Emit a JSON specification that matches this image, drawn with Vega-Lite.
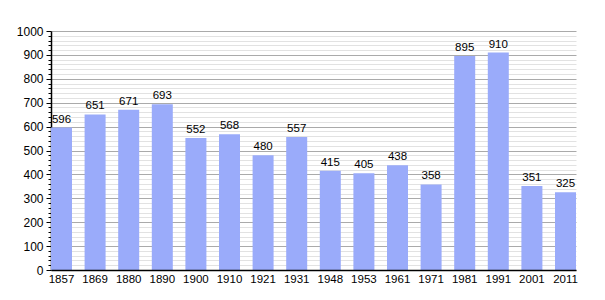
{
  "$schema": "https://vega.github.io/schema/vega-lite/v6.json",
  "width": 525,
  "height": 239,
  "autosize": {"type": "none"},
  "padding": {"left": 51, "top": 31, "right": 29, "bottom": 30},
  "background": "white",
  "config": {
    "view": {"stroke": null},
    "font": "Liberation Sans",
    "axis": {"labelFont": "Liberation Sans", "labelFontSize": 11, "labelColor": "#000"}
  },
  "data": {
    "values": [
      {"year": "1857", "pop": 596},
      {"year": "1869", "pop": 651},
      {"year": "1880", "pop": 671},
      {"year": "1890", "pop": 693},
      {"year": "1900", "pop": 552},
      {"year": "1910", "pop": 568},
      {"year": "1921", "pop": 480},
      {"year": "1931", "pop": 557},
      {"year": "1948", "pop": 415},
      {"year": "1953", "pop": 405},
      {"year": "1961", "pop": 438},
      {"year": "1971", "pop": 358},
      {"year": "1981", "pop": 895},
      {"year": "1991", "pop": 910},
      {"year": "2001", "pop": 351},
      {"year": "2011", "pop": 325}
    ]
  },
  "encoding": {
    "x": {
      "field": "year",
      "type": "ordinal",
      "sort": null,
      "scale": {"paddingInner": 0.375, "paddingOuter": 0},
      "axis": {
        "title": null,
        "labelAngle": 0,
        "ticks": false,
        "labelPadding": 3,
        "labelFontSize": 11.5,
        "domainColor": "#000",
        "domainWidth": 1.5,
        "grid": false,
        "zindex": 2
      }
    }
  },
  "layer": [
    {
      "mark": {"type": "bar", "opacity": 0},
      "encoding": {
        "y": {
          "field": "pop",
          "type": "quantitative",
          "scale": {"domain": [0, 1000]},
          "axis": {
            "orient": "left",
            "title": null,
            "values": [20,40,60,80,120,140,160,180,220,240,260,280,320,340,360,380,420,440,460,480,520,540,560,580,620,640,660,680,720,740,760,780,820,840,860,880,920,940,960,980],
            "labels": false,
            "tickSize": 3,
            "tickColor": "#000",
            "domain": false,
            "grid": true,
            "gridColor": "#e2e2e2",
            "gridWidth": 1,
            "zindex": 0
          }
        }
      }
    },
    {
      "mark": {"type": "bar", "color": "#9aabfa"},
      "encoding": {
        "y": {
          "field": "pop",
          "type": "quantitative",
          "scale": {"domain": [0, 1000]},
          "axis": {
            "orient": "left",
            "title": null,
            "values": [0,100,200,300,400,500,600,700,800,900,1000],
            "format": "d",
            "labelFontSize": 12,
            "tickSize": 5,
            "tickColor": "#000",
            "labelPadding": 3,
            "domainColor": "#000",
            "domainWidth": 1.5,
            "grid": true,
            "gridColor": "#aaaaaa",
            "gridWidth": 1,
            "zindex": 0
          }
        }
      }
    },
    {
      "mark": {"type": "text", "baseline": "bottom", "dy": -3, "fontSize": 11.5, "font": "Liberation Sans", "color": "#000"},
      "encoding": {
        "y": {"field": "pop", "type": "quantitative", "axis": null},
        "text": {"field": "pop", "type": "quantitative"}
      }
    }
  ],
  "resolve": {"axis": {"y": "independent"}}
}
